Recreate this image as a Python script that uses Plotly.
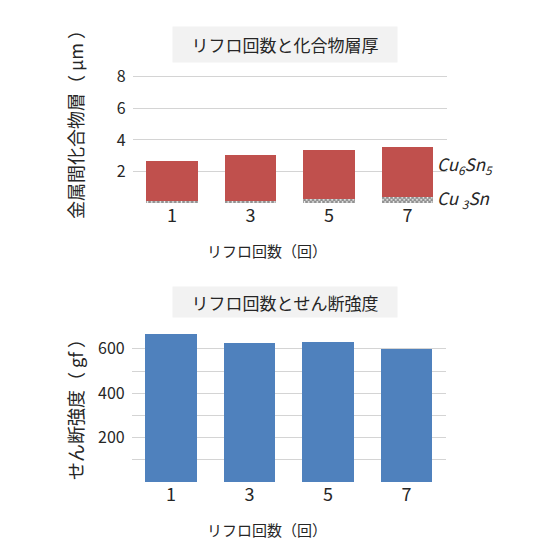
import plotly.graph_objects as go

reflow = ["1", "3", "5", "7"]
cu3sn = [0.17, 0.17, 0.27, 0.38]
cu6sn5 = [2.52, 2.88, 3.08, 3.18]
shear = [666, 626, 629, 599]

font = "Noto Sans CJK JP"
narrow = "Liberation Sans Narrow, Noto Sans CJK JP"
red = "#C0504D"
blue = "#4F81BD"
grid = "#D4D4D4"
ink = "#262626"

def fx(px):
    return (px - 8) / 560

def fy(py):
    return 1 - (py - 8) / 560

fig = go.Figure()
fig.add_trace(go.Bar(x=reflow, y=cu3sn, name="Cu3Sn", xaxis="x", yaxis="y",
                     marker=dict(color="white", line=dict(width=0),
                                 pattern=dict(shape="x", fgcolor="#1E1E1E", size=3, solidity=0.75))))
fig.add_trace(go.Bar(x=reflow, y=cu6sn5, name="Cu6Sn5", xaxis="x", yaxis="y",
                     marker=dict(color=red, line=dict(width=0))))
fig.add_trace(go.Bar(x=reflow, y=shear, name="shear", xaxis="x2", yaxis="y2",
                     marker=dict(color=blue, line=dict(width=0))))

xcommon = dict(showline=False, zeroline=False, ticks="", showgrid=False,
               tickfont=dict(family=narrow, size=18, color=ink))
ycommon = dict(showline=False, zeroline=False, ticks="", gridcolor=grid, ticklabelstandoff=6,
               tickfont=dict(family=narrow, size=16, color=ink))

fig.update_layout(
    width=560, height=560,
    margin=dict(l=0, r=0, t=0, b=0),
    paper_bgcolor="white", plot_bgcolor="white",
    barmode="stack", bargap=0.34,
    showlegend=False,
    xaxis=dict(domain=[fx(132.7), fx(446.7)], anchor="y", **xcommon),
    yaxis=dict(domain=[fy(203.3), fy(45)], anchor="x", range=[0, 10], tickvals=[2, 4, 6, 8],
               minor=dict(dtick=2, showgrid=True, gridcolor=grid, ticks=""), **ycommon),
    xaxis2=dict(domain=[fx(131.7), fx(445.7)], anchor="y2", **xcommon),
    yaxis2=dict(domain=[fy(482), fy(326.7)], anchor="x2", range=[0, 700], tickvals=[200, 400, 600],
                minor=dict(dtick=100, showgrid=True, gridcolor=grid, ticks=""), **ycommon),
)

title_font = dict(family=font, size=17, color=ink)
label_font = dict(family=font, size=15, color=ink)
ytitle_font = dict(family=font, size=18, color=ink)
cu_font = dict(family=narrow, size=17, color=ink)

# chart titles with grey box
fig.add_annotation(text="リフロ回数と化合物層厚", xref="paper", yref="paper", x=fx(285), y=fy(44.2),
                   xanchor="center", yanchor="middle", showarrow=False, font=title_font,
                   bgcolor="#F2F2F2", width=220, height=31, borderpad=2)
fig.add_annotation(text="リフロ回数とせん断強度", xref="paper", yref="paper", x=fx(285), y=fy(302),
                   xanchor="center", yanchor="middle", showarrow=False, font=title_font,
                   bgcolor="#F2F2F2", width=220, height=26, borderpad=2)

# axis titles
fig.add_annotation(text="金属間化合物層（ μm ）", xref="paper", yref="paper", x=fx(75), y=fy(120),
                   xanchor="center", yanchor="middle", textangle=-90, showarrow=False, font=ytitle_font)
fig.add_annotation(text="せん断強度（ gf ）", xref="paper", yref="paper", x=fx(75), y=fy(405),
                   xanchor="center", yanchor="middle", textangle=-90, showarrow=False, font=ytitle_font)
fig.add_annotation(text="リフロ回数（回）", xref="paper", yref="paper", x=fx(267), y=fy(250),
                   xanchor="center", yanchor="middle", showarrow=False, font=label_font)
fig.add_annotation(text="リフロ回数（回）", xref="paper", yref="paper", x=fx(267), y=fy(529),
                   xanchor="center", yanchor="middle", showarrow=False, font=label_font)

# layer labels
fig.add_annotation(text="<i>Cu<sub>6</sub>Sn<sub>5</sub></i>", xref="paper", yref="y", x=fx(435), y=2.42,
                   xanchor="left", yanchor="middle", showarrow=False, font=cu_font)
fig.add_annotation(text="<i>Cu <sub>3</sub>Sn</i>", xref="paper", yref="y", x=fx(435), y=0.33,
                   xanchor="left", yanchor="middle", showarrow=False, font=cu_font)

fig.write_html("out.html")
